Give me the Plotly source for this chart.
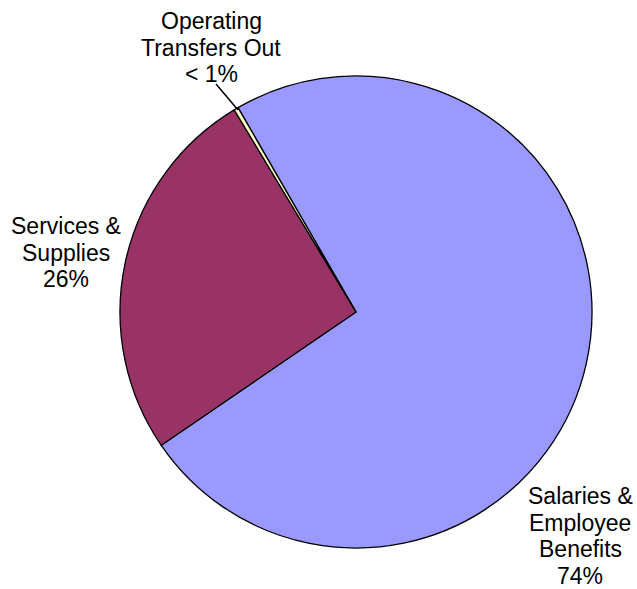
import plotly.graph_objects as go

W, H = 637, 589

categories = ["Salaries & Employee Benefits", "Services & Supplies", "Operating Transfers Out"]
label_lines = [
    ["Salaries &", "Employee", "Benefits"],
    ["Services &", "Supplies"],
    ["Operating", "Transfers Out"],
]
values = [74, 26, 0.3]
pct_labels = ["74%", "26%", "< 1%"]
colors = ["#9999FF", "#993366", "#FFFFCC"]


def px(x):
    return x / W


def py(y):
    return 1 - y / H


fig = go.Figure(
    go.Pie(
        labels=categories,
        values=values,
        sort=False,
        direction="clockwise",
        rotation=-30,
        textinfo="none",
        hoverinfo="label+percent",
        marker=dict(colors=colors, line=dict(color="black", width=1.3)),
        domain=dict(x=[px(120), px(592)], y=[py(548), py(76)]),
        showlegend=False,
    )
)

font = dict(family="Liberation Sans, Arial, sans-serif", size=23, color="black")

# (centre x, first-line centre y) of each label block, in pixels
label_pos = [(580, 496), (66, 226), (211, 21)]
line_step = 26.7

annotations = []
for lines, pct, (x, y0) in zip(label_lines, pct_labels, label_pos):
    for i, txt in enumerate(lines + [pct]):
        annotations.append(
            dict(
                x=px(x), y=py(y0 + i * line_step), xref="paper", yref="paper",
                text=txt, showarrow=False, font=font,
                xanchor="center", yanchor="middle",
            )
        )

fig.update_layout(
    width=W, height=H,
    margin=dict(l=0, r=0, t=0, b=0),
    paper_bgcolor="white",
    plot_bgcolor="white",
    annotations=annotations,
    shapes=[
        dict(type="line", xref="paper", yref="paper",
             x0=px(216), y0=py(84), x1=px(238), y1=py(110),
             line=dict(color="black", width=1.5))
    ],
)

fig.write_html("out.html")
